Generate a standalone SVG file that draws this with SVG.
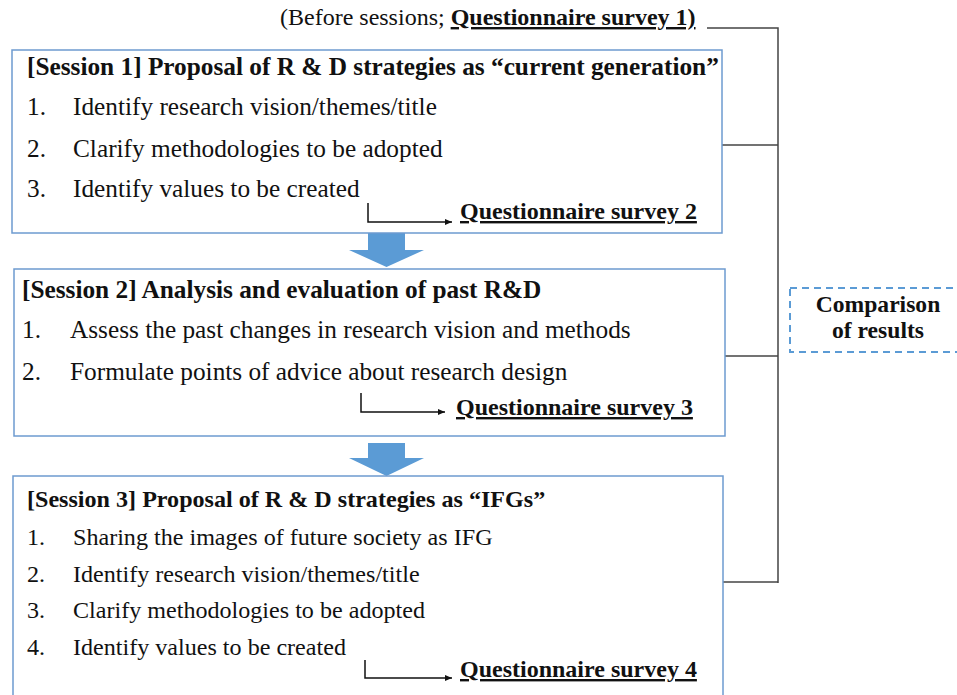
<svg xmlns="http://www.w3.org/2000/svg" width="957" height="695" viewBox="0 0 957 695">
<style>
text{font-family:"Liberation Serif","Times New Roman",serif;font-size:25.3px;fill:#111}
.s3{font-size:24.1px}
.q{font-size:24px;font-weight:bold;text-decoration:underline}
.top{font-size:24px}
.cmp{font-size:23.6px;font-weight:bold}
.b{font-weight:bold}
.u{text-decoration:underline}
.box{fill:#fff;stroke:#6d9bd0;stroke-width:1.5}
.blk{fill:#5b9bd5}
.ln{fill:none;stroke:#444;stroke-width:1.5}
.sm{fill:none;stroke:#111;stroke-width:1.5}
.dash{fill:none;stroke:#5b9bd5;stroke-width:2;stroke-dasharray:7,5}
</style>
<defs>
<marker id="ah" markerWidth="8" markerHeight="8" refX="7" refY="4" orient="auto" markerUnits="userSpaceOnUse">
<path d="M0,1 L7,4 L0,7 z" fill="#111"/>
</marker>
</defs>
<g id="connectors">
<polyline class="ln" points="707,28 778,28 778,583"/>
<line class="ln" x1="722" y1="145" x2="778" y2="145"/>
<line class="ln" x1="725" y1="356" x2="778" y2="356"/>
<line class="ln" x1="723" y1="582" x2="778" y2="582"/>
<path class="blk" d="M368,233 H405 V250 H424 L386.5,267 L349,250 H368 Z"/>
<path class="blk" d="M368,443 H405 V458 H424 L386.5,476 L349,458 H368 Z"/>
</g>
<g id="pre">
<text class="top" x="280" y="25">(Before sessions; <tspan class="b u">Questionnaire survey 1)</tspan></text>
</g>
<g id="session1">
<rect class="box" x="12" y="50" width="710" height="183"/>
<text class="b" x="27" y="75">[Session 1] Proposal of R &amp; D strategies as “current generation”</text>
<text x="27" y="115">1.</text><text x="73" y="115">Identify research vision/themes/title</text>
<text x="27" y="157">2.</text><text x="73" y="157">Clarify methodologies to be adopted</text>
<text x="27" y="197">3.</text><text x="73" y="197">Identify values to be created</text>
<polyline class="sm" points="368,203 368,222 452,222" marker-end="url(#ah)"/>
<text class="q" x="460" y="219">Questionnaire survey 2</text>
</g>
<g id="session2">
<rect class="box" x="14" y="269" width="711" height="167"/>
<text class="b" x="22" y="298">[Session 2] Analysis and evaluation of past R&amp;D</text>
<text x="22" y="338">1.</text><text x="70" y="338">Assess the past changes in research vision and methods</text>
<text x="22" y="380">2.</text><text x="70" y="380">Formulate points of advice about research design</text>
<polyline class="sm" points="361,393 361,412 445,412" marker-end="url(#ah)"/>
<text class="q" x="456" y="415">Questionnaire survey 3</text>
</g>
<g id="session3">
<rect class="box" x="13" y="476" width="710" height="230"/>
<text class="b s3" x="27" y="507">[Session 3] Proposal of R &amp; D strategies as “IFGs”</text>
<text class="s3" x="27" y="545">1.</text><text class="s3" x="73" y="545">Sharing the images of future society as IFG</text>
<text class="s3" x="27" y="582">2.</text><text class="s3" x="73" y="582">Identify research vision/themes/title</text>
<text class="s3" x="27" y="618">3.</text><text class="s3" x="73" y="618">Clarify methodologies to be adopted</text>
<text class="s3" x="27" y="655">4.</text><text class="s3" x="73" y="655">Identify values to be created</text>
<polyline class="sm" points="365,660 365,678 452,678" marker-end="url(#ah)"/>
<text class="q" x="460" y="677">Questionnaire survey 4</text>
</g>
<g id="comparison">
<rect class="dash" x="790" y="288" width="180" height="64"/>
<text class="cmp" x="878" y="312" text-anchor="middle">Comparison</text>
<text class="cmp" x="878" y="338" text-anchor="middle">of results</text>
</g>
</svg>
